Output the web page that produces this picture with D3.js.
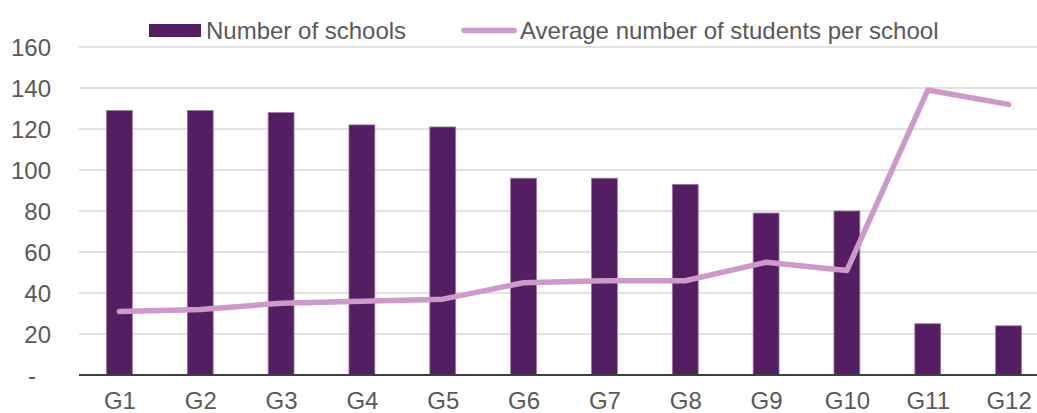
<!DOCTYPE html>
<html>
<head>
<meta charset="utf-8">
<script src="https://cdn.jsdelivr.net/npm/d3@7"></script>
<style>
  html, body { margin: 0; padding: 0; background: #fff; }
  svg { display: block; font-family: "Liberation Sans", Arial, sans-serif; }
</style>
</head>
<body>
<svg id="chart" width="1037" height="413"></svg>
<script>
const categories = ["G1","G2","G3","G4","G5","G6","G7","G8","G9","G10","G11","G12"];
const schools = [129, 129, 128, 122, 121, 96, 96, 93, 79, 80, 25, 24];
const avgStudents = [31, 32, 35, 36, 37, 45, 46, 46, 55, 51, 139, 132];
const yTicks = [0, 20, 40, 60, 80, 100, 120, 140, 160];
const seriesNames = ["Number of schools", "Average number of students per school"];

const barColor = "#561E62";
const lineColor = "#CC99C9";
const textColor = "#595959";
const fontSize = 24;

const svg = d3.select("#chart");
const plotLeft = 79, plotRight = 1049, plotTop = 47, plotBottom = 375;

const x = d3.scaleBand().domain(categories).range([plotLeft, plotRight]).paddingInner(0.68).paddingOuter(0.34);
const xc = d3.scalePoint().domain(categories).range([plotLeft, plotRight]).padding(0.5);
const y = d3.scaleLinear().domain([0, 160]).range([plotBottom, plotTop]);

// gridlines
svg.append("g").selectAll("line").data(yTicks.filter(d => d > 0)).join("line")
  .attr("x1", plotLeft).attr("x2", 1037)
  .attr("y1", d => y(d)).attr("y2", d => y(d))
  .attr("stroke", "#D9D9D9").attr("stroke-width", 1.5);

// y axis labels
const yAxis = d3.axisLeft(y).tickValues(yTicks).tickSize(0).tickPadding(0)
  .tickFormat(d => d === 0 ? "-" : d);
const yg = svg.append("g").attr("transform", "translate(51,0)").call(yAxis);
yg.select(".domain").remove();
yg.selectAll("text").attr("fill", textColor).style("font-size", fontSize + "px")
  .style("font-family", "'Liberation Sans', Arial, sans-serif")
  .attr("dy", "0.35em")
  .attr("x", d => d === 0 ? -15 : 0);

// bars
svg.append("g").selectAll("rect").data(categories).join("rect")
  .attr("x", d => x(d))
  .attr("width", x.bandwidth())
  .attr("y", (d, i) => y(schools[i]))
  .attr("height", (d, i) => y(0) - y(schools[i]))
  .attr("fill", barColor)
  .attr("stroke", "#9C7AA3").attr("stroke-width", 0.8);

// x axis line
svg.append("line").attr("x1", plotLeft).attr("x2", 1037).attr("y1", y(0)).attr("y2", y(0))
  .attr("stroke", "#404040").attr("stroke-width", 2);

// x labels
const xAxis = d3.axisBottom(xc).tickSize(0).tickPadding(0);
const xg = svg.append("g").attr("transform", `translate(0,${y(0)})`).call(xAxis);
xg.select(".domain").remove();
xg.selectAll("text").attr("fill", textColor).style("font-size", fontSize + "px")
  .style("font-family", "'Liberation Sans', Arial, sans-serif")
  .attr("dy", null).attr("y", 34);

// line
const line = d3.line().x((d, i) => xc(categories[i])).y(d => y(d));
svg.append("path").datum(avgStudents)
  .attr("d", line).attr("fill", "none")
  .attr("stroke", lineColor).attr("stroke-width", 5.5)
  .attr("stroke-linecap", "round").attr("stroke-linejoin", "round");

// legend
const lg = svg.append("g");
lg.append("rect").attr("x", 149).attr("y", 24).attr("width", 52).attr("height", 13).attr("fill", barColor);
lg.append("text").attr("x", 206).attr("y", 30.5).attr("dy", "0.35em")
  .attr("fill", textColor).style("font-size", fontSize + "px").text(seriesNames[0]);
lg.append("line").attr("x1", 464).attr("x2", 514).attr("y1", 30.5).attr("y2", 30.5)
  .attr("stroke", lineColor).attr("stroke-width", 5.5).attr("stroke-linecap", "round");
lg.append("text").attr("x", 520).attr("y", 30.5).attr("dy", "0.35em")
  .attr("fill", textColor).style("font-size", fontSize + "px").text(seriesNames[1]);
</script>
</body>
</html>
